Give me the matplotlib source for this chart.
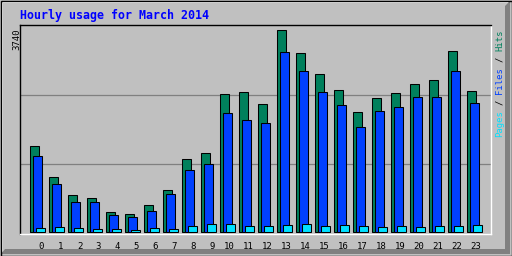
import matplotlib
matplotlib.use("Agg")
import matplotlib.pyplot as plt
import matplotlib.transforms as mtransforms
from matplotlib.patches import Polygon, Rectangle
import numpy as np

hours = list(range(24))
hour_labels = [str(h) for h in hours]
hits = [1584, 1013, 682, 626, 368, 332, 497, 774, 1345, 1455, 2561, 2597,
        2376, 3740, 3316, 2929, 2634, 2211, 2487, 2579, 2745, 2818, 3353, 2616]
files = [1400, 884, 553, 553, 313, 276, 387, 700, 1142, 1253, 2192, 2063,
         2008, 3334, 2984, 2597, 2340, 1934, 2229, 2321, 2505, 2505, 2984, 2395]
pages = [74, 98, 79, 61, 61, 42, 79, 61, 116, 147, 147, 116,
         110, 129, 147, 110, 129, 110, 92, 110, 92, 110, 110, 129]
title = "Hourly usage for March 2014"
ymax_label = "3740"

BG = "#C0C0C0"
C_HITS = "#00805C"
C_FILES = "#0040FF"
C_PAGES = "#00E0FF"
MONO = "DejaVu Sans Mono"

W, H = 512, 256
fig = plt.figure(figsize=(W / 100, H / 100), dpi=100)
fig.patch.set_facecolor(BG)

# background axes in pixel coordinates
bg = fig.add_axes([0, 0, 1, 1])
bg.set_xlim(0, W)
bg.set_ylim(H, 0)
bg.axis("off")
bg.add_patch(Polygon([(1, 1), (510, 1), (508, 3), (3, 3), (3, 251), (1, 254)],
                     closed=True, facecolor="white", edgecolor="none"))
bg.add_patch(Polygon([(510, 1), (510, 254), (1, 254), (5, 249), (505, 249), (505, 6)],
                     closed=True, facecolor="#808080", edgecolor="none"))
bg.add_patch(Rectangle((0.5, 0.5), W - 1, H - 1, facecolor="none",
                       edgecolor="black", linewidth=1.0))

# main plot axes
L, R, T, B = 20, 491, 25, 234
ax = fig.add_axes([L / W, 1 - B / H, (R - L) / W, (B - T) / H])
ax.set_facecolor(BG)
ax.set_zorder(2)
px = 19.0
x0 = 29.8
ax.set_xlim((L - x0) / px, (R - x0) / px)
k = max(hits) / (232 - 29.8)
ax.set_ylim(-(B - 232) * k, (232 - T) * k)
ylo, yhi = ax.get_ylim()
for f in (1 / 3, 2 / 3):
    ax.axhline(ylo + f * (yhi - ylo), color="#808080", linewidth=0.9, zorder=0.5)

x = np.array(hours, dtype=float)
w = 9.5 / px
lw = 0.75
ax.bar(x, hits, width=w, align="edge", color=C_HITS, edgecolor="black", linewidth=lw, zorder=2)
ax.bar(x + 3 / px, files, width=w, align="edge", color=C_FILES, edgecolor="black", linewidth=lw, zorder=3)
ax.bar(x + 6 / px, pages, width=w, align="edge", color=C_PAGES, edgecolor="black", linewidth=lw, zorder=4)

ax.set_xticks([])
ax.set_yticks([])
for s in ("top", "left"):
    ax.spines[s].set_color("black")
for s in ("bottom", "right"):
    ax.spines[s].set_color("white")
for s in ax.spines.values():
    s.set_linewidth(1.0)

# title
bg.text(20, 19, title, fontfamily=MONO, fontweight="bold", fontsize=8.4,
        color="#0000FF", ha="left", va="baseline")

# hour labels
trans = mtransforms.blended_transform_factory(ax.transData, bg.transData)
for h, lab in zip(hours, hour_labels):
    bg.text(h + 14.4 / px, 249, lab, transform=trans, fontfamily=MONO, fontsize=6.5,
            color="black", ha="right", va="baseline")

# max label
bg.text(19, 28, ymax_label, rotation=90, rotation_mode="anchor", fontfamily=MONO,
        fontsize=6.5, color="black", ha="right", va="baseline")

# right legend
fs = 6.4
adv = 0.602 * fs * 100 / 72
segs = [("Pages", 0, C_PAGES), ("/", 6, "black"), ("Files", 8, C_FILES),
        ("/", 14, "black"), ("Hits", 16, C_HITS)]
for txt, n, col in segs:
    bg.text(502, 137 - n * adv, txt, rotation=90, rotation_mode="anchor",
            fontfamily=MONO, fontsize=fs, color=col, ha="left", va="baseline")

fig.savefig("out.png", dpi=100, facecolor=BG)
